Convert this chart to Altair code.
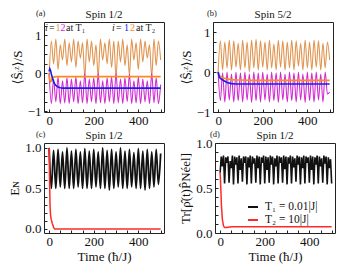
import altair as alt
import pandas as pd

# ---------------- data ----------------
T10 = list(range(0, 501, 10))
T5 = list(range(0, 501, 5))

a_T1_i1 = [-0.08, 0.85, 0.25, 0.9, 0.1, 0.75, 0.35, 0.9, 0.2, 0.8,
           0.3, 0.9, 0.15, 0.85, 0.4, 0.8, -0.1, 0.9, 0.3, 0.85,
           0.2, 0.75, -0.1, 0.9, 0.35, 0.8, 0.25, 0.9, 0.15, 0.85,
           -0.1, 0.85, 0.3, 0.9, 0.2, 0.75, -0.05, 0.9, 0.35, 0.8,
           0.1, 0.9, 0.3, 0.85, 0.4, 0.75, -0.1, 0.9, 0.2, 0.85, 0.35]
a_T1_i2 = [0.0, -0.8, -0.15, -0.75, -0.1, -0.8, -0.2, -0.78, -0.12, -0.8,
           -0.15, -0.75, -0.1, -0.8, -0.2, -0.78, 0.0, -0.8, -0.15, -0.75,
           -0.12, -0.8, 0.0, -0.78, -0.2, -0.8, -0.12, -0.75, -0.1, -0.8,
           0.0, -0.78, -0.15, -0.8, -0.12, -0.75, -0.02, -0.8, -0.2, -0.78,
           -0.1, -0.8, -0.15, -0.75, -0.2, -0.8, 0.0, -0.78, -0.12, -0.8, -0.3]
a_T2_i1_t = [0, 3, 6, 10, 15, 20, 25, 30, 40, 50, 60, 80, 500]
a_T2_i1 = [0.05, 0.12, 0.08, -0.02, -0.13, -0.22, -0.28, -0.32, -0.36, -0.38, -0.39, -0.39, -0.39]
a_T2_i2_t = [0, 3, 6, 10, 15, 20, 30, 500]
a_T2_i2 = [-0.05, -0.18, -0.22, -0.2, -0.13, -0.1, -0.09, -0.09]

b_T1_i1 = [0.0, 0.78, 0.05, 0.75, 0.1, 0.8, 0.05, 0.78, 0.12, 0.72,
           0.05, 0.8, 0.1, 0.75, 0.0, 0.8, 0.1, 0.82, 0.05, 0.78,
           0.12, 0.75, 0.05, 0.8, 0.1, 0.7, 0.05, 0.8, 0.12, 0.78,
           0.05, 0.75, 0.1, 0.8, 0.05, 0.78, 0.15, 0.72, 0.05, 0.8,
           0.1, 0.75, 0.05, 0.8, 0.12, 0.78, 0.05, 0.72, 0.1, 0.75, 0.3]
b_T1_i2 = [0.0, -0.72, -0.02, -0.75, 0.0, -0.7, -0.05, -0.75, 0.0, -0.72,
           -0.02, -0.75, 0.0, -0.7, -0.05, -0.76, 0.0, -0.72, -0.02, -0.75,
           0.0, -0.7, -0.05, -0.75, 0.0, -0.72, -0.02, -0.76, 0.0, -0.7,
           -0.05, -0.75, 0.0, -0.72, -0.02, -0.75, 0.0, -0.7, -0.05, -0.76,
           0.0, -0.72, -0.02, -0.75, 0.0, -0.7, -0.05, -0.75, 0.0, -0.55, -0.5]
b_T2_i2_t = [0, 5, 10, 20, 30, 40, 60, 80, 100, 150, 500]
b_T2_i2 = [0.0, -0.08, -0.11, -0.14, -0.16, -0.17, -0.19, -0.2, -0.2, -0.21, -0.21]
b_T2_i1_t = [0, 5, 10, 20, 30, 40, 60, 80, 100, 500]
b_T2_i1 = [0.0, -0.12, -0.16, -0.2, -0.23, -0.26, -0.29, -0.3, -0.3, -0.3]

c_T1 = [1.0, 0.5, 0.97, 0.5, 0.98, 0.52, 0.95, 0.5, 1.0, 0.5,
        0.96, 0.5, 0.98, 0.52, 0.95, 0.5, 0.99, 0.5, 0.96, 0.5,
        0.98, 0.52, 0.95, 0.5, 1.0, 0.5, 0.97, 0.48, 0.98, 0.5,
        0.95, 0.52, 1.0, 0.5, 0.96, 0.5, 0.98, 0.52, 0.94, 0.5,
        0.99, 0.5, 0.96, 0.48, 0.98, 0.5, 0.95, 0.52, 0.98, 0.55, 0.93]
c_T2_t = [0, 2, 4, 6, 9, 14, 20, 25, 30, 500]
c_T2 = [1.0, 0.6, 0.3, 0.18, 0.12, 0.07, 0.02, 0.0, 0.0, 0.0]

d_T1 = [0.67, 0.85, 0.74, 0.86, 0.55, 0.84, 0.78, 0.85, 0.56, 0.8,
        0.72, 0.86, 0.54, 0.85, 0.76, 0.84, 0.55, 0.86, 0.7, 0.83,
        0.57, 0.85, 0.78, 0.85, 0.54, 0.84, 0.73, 0.86, 0.55, 0.85,
        0.77, 0.83, 0.56, 0.86, 0.72, 0.85, 0.54, 0.84, 0.78, 0.86,
        0.55, 0.85, 0.7, 0.84, 0.56, 0.86, 0.76, 0.85, 0.54, 0.83,
        0.74, 0.86, 0.55, 0.85, 0.78, 0.84, 0.56, 0.86, 0.71, 0.85,
        0.54, 0.84, 0.77, 0.86, 0.55, 0.85, 0.73, 0.83, 0.57, 0.86,
        0.76, 0.85, 0.54, 0.84, 0.72, 0.86, 0.55, 0.85, 0.78, 0.84,
        0.56, 0.86, 0.7, 0.85, 0.54, 0.84, 0.76, 0.86, 0.55, 0.85,
        0.74, 0.83, 0.56, 0.86, 0.77, 0.85, 0.54, 0.84, 0.72, 0.82, 0.55]
d_T2_t = [0, 3, 6, 10, 15, 20, 30, 50, 500]
d_T2 = [0.67, 0.5, 0.3, 0.15, 0.08, 0.06, 0.06, 0.07, 0.07]

assert len(d_T1) == len(T5)

# ---------------- styling ----------------
FONT = "Liberation Serif, DejaVu Serif, serif"
W, H = 120, 90
ORANGE_T1 = "#E0944F"
ORANGE_T2 = "#FF8A1C"
MAGENTA = "#D22AD2"
BLUE = "#1C1CE8"
RED = "#FF2A2A"
BLACK = "#111111"

x_ticks = list(range(0, 501, 50))
y_ticks_int = [round(-1 + 0.25 * i, 2) for i in range(10)]
y_ticks_dec = [round(0.1 * i, 2) for i in range(11)]


def xenc(show_title):
    return alt.X(
        "t:Q",
        scale=alt.Scale(domain=[-23, 515], nice=False, zero=False),
        axis=alt.Axis(
            values=x_ticks,
            labelExpr="datum.value % 200 === 0 ? format(datum.value, 'd') : ''",
            title="Time (ħ/J)" if show_title else None,
            tickSize={"expr": "-3"},
            labelPadding=5,
            titlePadding=2,
            labelOverlap=False,
            labelFlush=False,
        ),
    )


def yenc(domain, ticks, kind, title):
    if kind == "int":
        expr = "abs(datum.value - round(datum.value)) < 1e-6 ? format(datum.value, '.0f') : ''"
    else:
        expr = "abs(datum.value * 2 - round(datum.value * 2)) < 1e-6 ? format(datum.value, '.1f') : ''"
    return alt.Y(
        "v:Q",
        scale=alt.Scale(domain=domain, nice=False, zero=False),
        axis=alt.Axis(
            values=ticks,
            labelExpr=expr,
            title=title,
            tickSize={"expr": "-3"},
            labelPadding=6,
            titlePadding=3,
            labelOverlap=False,
            labelFlush=False,
        ),
    )


def line(t, v, color, width, X, Y, interp="monotone"):
    df = pd.DataFrame({"t": t, "v": v})
    return alt.Chart(df).mark_line(
        color=color, strokeWidth=width, interpolate=interp, clip=True
    ).encode(x=X, y=Y)


dummy = pd.DataFrame({"k": [0]})


def text(s, x, y, color="#222222", size=10, style="normal", align="left"):
    return alt.Chart(dummy).mark_text(
        font=FONT, fontSize=size, fontStyle=style, color=color, align=align, baseline="middle"
    ).encode(x=alt.value(x), y=alt.value(y), text=alt.value(s))


def seg(x1, x2, y, color):
    return alt.Chart(dummy).mark_rule(color=color, strokeWidth=2).encode(
        x=alt.value(x1), x2=alt.value(x2), y=alt.value(y)
    )


def head(label, ttl, lx):
    return [
        text(ttl, W / 2, -7, "#111111", size=11, align="center"),
        text(label, lx, -9, "#222222", size=8.5),
    ]


# ---- panel (a)
Xa = xenc(False)
Ya = yenc([-1.02, 1.35], y_ticks_int, "int", "⟨Ŝᵢᶻ⟩/S")
pa = alt.layer(
    line(T10, a_T1_i1, ORANGE_T1, 1.1, Xa, Ya),
    line(T10, a_T1_i2, MAGENTA, 1.1, Xa, Ya),
    line(a_T2_i2_t, a_T2_i2, ORANGE_T2, 1.8, Xa, Ya, "linear"),
    line(a_T2_i1_t, a_T2_i1, BLUE, 1.6, Xa, Ya, "linear"),
    text("i", 1, 6, style="italic"),
    text("=", 5, 6),
    text("1", 11.5, 6, ORANGE_T1),
    text("2", 16.5, 6, MAGENTA),
    text("at T₁", 22, 6),
    text("i", 68, 6, style="italic"),
    text("=", 72, 6),
    text("1", 80, 6, BLUE),
    text("2", 86, 6, ORANGE_T2),
    text("at T₂", 92, 6),
    *head("(a)", "Spin 1/2", -8),
).properties(width=W, height=H)

# ---- panel (b)
Xb = xenc(False)
Yb = yenc([-1.0, 1.25], y_ticks_int, "int", "⟨Ŝᵢᶻ⟩/S")
pb = alt.layer(
    line(T10, b_T1_i1, ORANGE_T1, 1.1, Xb, Yb),
    line(T10, b_T1_i2, MAGENTA, 1.1, Xb, Yb),
    line(b_T2_i2_t, b_T2_i2, ORANGE_T2, 1.6, Xb, Yb, "linear"),
    line(b_T2_i1_t, b_T2_i1, BLUE, 1.6, Xb, Yb, "linear"),
    *head("(b)", "Spin 5/2", -6),
).properties(width=W, height=H)

# ---- panel (c)
Xc = xenc(True)
Yc = yenc([-0.05, 1.06], y_ticks_dec, "dec", "Eɴ")
pc = alt.layer(
    line(T10, c_T1, BLACK, 1.8, Xc, Yc),
    line(c_T2_t, c_T2, RED, 1.5, Xc, Yc, "linear"),
    *head("(c)", "Spin 1/2", -8),
).properties(width=W, height=H)

# ---- panel (d)
Xd = xenc(True)
Yd = yenc([0.0, 1.0], y_ticks_dec, "dec", "Tr[ρ̂(t)P̂Néel]")
pd_ = alt.layer(
    line(T5, d_T1, BLACK, 1.6, Xd, Yd, "linear"),
    line(d_T2_t, d_T2, RED, 1.5, Xd, Yd, "linear"),
    seg(33, 43, 64, BLACK),
    seg(33, 43, 77, RED),
    text("T₁ = 0.01|J|", 50, 64, BLACK, size=11.5),
    text("T₂ = 10|J|", 50, 77, BLACK, size=11.5),
    *head("(d)", "Spin 1/2", -5),
).properties(width=W, height=H)

chart = alt.vconcat(
    alt.hconcat(pa, pb, spacing=14),
    alt.hconcat(pc, pd_, spacing=14),
    spacing=1,
).properties(padding=0).configure_view(
    stroke="#222222", strokeWidth=1
).configure_axis(
    domain=False, grid=False, tickColor="#222222",
    labelFont=FONT, labelFontSize=13, labelColor="#111111",
    titleFont=FONT, titleFontSize=13, titleFontWeight="normal", titleColor="#111111",
)

chart.save("out.html", embed_options={"renderer": "svg", "actions": False})
